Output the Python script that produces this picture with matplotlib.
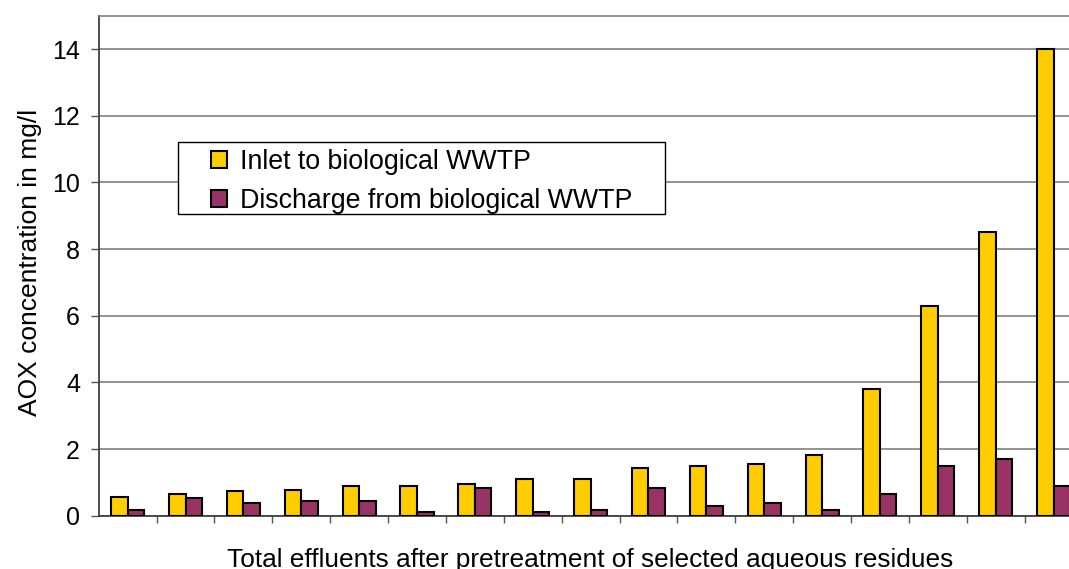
import matplotlib
matplotlib.use("Agg")
import matplotlib.pyplot as plt
from matplotlib.patches import Rectangle
import numpy as np

plt.rcParams['font.family'] = ['Liberation Sans', 'DejaVu Sans']

# AOX concentrations (mg/l) for the 17 sampled total effluents
inlet = [0.55, 0.66, 0.73, 0.77, 0.88, 0.88, 0.94, 1.11, 1.11, 1.43, 1.48,
         1.54, 1.81, 3.80, 6.30, 8.50, 14.0]
discharge = [0.17, 0.54, 0.39, 0.45, 0.45, 0.11, 0.82, 0.11, 0.17, 0.84, 0.28,
             0.39, 0.17, 0.66, 1.48, 1.70, 0.88]
series_labels = ["Inlet to biological WWTP", "Discharge from biological WWTP"]
y_ticks = [0, 2, 4, 6, 8, 10, 12, 14]

W, H = 1069, 569
fig = plt.figure(figsize=(W / 100, H / 100), dpi=100)
ax = fig.add_axes([98.7 / W, 1 - 515.7 / H, (1082.5 - 98.7) / W, 500 / H])

n = len(inlet)
x = np.arange(n)
w = 0.2857
ax.bar(x - w / 2, inlet, width=w, color="#FFCC00", edgecolor="black",
       linewidth=1.5, label=series_labels[0], zorder=3)
ax.bar(x + w / 2, discharge, width=w, color="#993366", edgecolor="black",
       linewidth=1.5, label=series_labels[1], zorder=3)

ax.set_xlim(-0.5, n - 0.5)
ax.set_ylim(0, 15)
ax.set_yticks(y_ticks)
ax.set_xticks(np.arange(0.5, n - 0.5, 1.0))
ax.set_xticklabels([])
ax.yaxis.grid(True, color="#808080", linewidth=1.2, zorder=0)
ax.tick_params(axis="y", direction="out", length=5.5, width=1, color="#555555",
               labelsize=18, pad=8)
ax.tick_params(axis="x", direction="out", length=5, width=1, color="#555555")

for side in ("left", "bottom"):
    ax.spines[side].set_color("#404040")
    ax.spines[side].set_linewidth(1.3)
ax.spines["top"].set_color("#808080")
ax.spines["top"].set_linewidth(1.2)
ax.spines["right"].set_visible(False)

ylab = ax.set_ylabel("AOX concentration in mg/l", fontsize=19,
                     ha="center", va="center")
ylab.set_rotation_mode("default")
ax.yaxis.set_label_coords((30 - 98.7) / 984, (515.7 - 262.5) / 500)

ax.set_xlabel("Total effluents after pretreatment of selected aqueous residues",
              fontsize=18.9, va="baseline")
ax.xaxis.set_label_coords(0.4995, (515.7 - 567) / 500)

# legend frame, placed in figure pixels
frame = Rectangle((178 / W, 1 - 214 / H), (665 - 178) / W, 72 / H,
                  transform=fig.transFigure, facecolor="white",
                  edgecolor="black", linewidth=1.0, zorder=4, clip_on=False)
ax.add_patch(frame)
leg = ax.legend(loc="upper left", bbox_to_anchor=(211 / W, 1 - 149 / H),
                bbox_transform=fig.transFigure, fontsize=19.3, frameon=False,
                borderaxespad=0, borderpad=0,
                handlelength=0.58, handleheight=0.58, handletextpad=0.5,
                labelspacing=0.48)
leg.set_zorder(5)

fig.savefig("out.png", dpi=100)
